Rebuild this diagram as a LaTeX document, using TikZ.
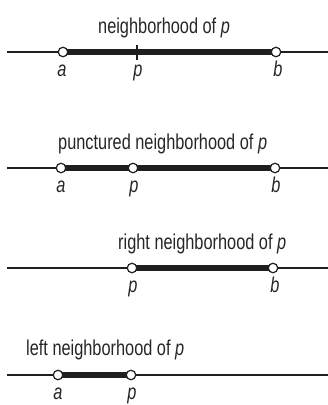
\documentclass[tikz,border=0pt]{standalone}
\usepackage{fontspec}
\setmainfont{Liberation Sans}[FakeStretch=0.76]
\begin{document}
\begin{tikzpicture}[x=1pt,y=-1pt,
  thinline/.style={line width=1.8pt,black!88},
  thickline/.style={line width=5.2pt,black!88},
  opendot/.style={circle,draw=black!88,fill=white,line width=1.2pt,inner sep=0pt,minimum size=9.5pt},
  lbl/.style={anchor=base,inner sep=0pt,font=\fontsize{21.5}{24}\selectfont\itshape,text=black!85},
  ttl/.style={anchor=base west,inner sep=0pt,font=\fontsize{21.5}{24}\selectfont,text=black!85}]
\useasboundingbox (0,0) rectangle (328,405);
% ---- row 1
\coordinate (l1) at (7,52); \coordinate (r1) at (328,52);
\coordinate (a1) at (63,52); \coordinate (p1) at (137,52); \coordinate (b1) at (276,52);
\draw[thinline] (l1) -- (r1);
\draw[thickline] (a1) -- (b1);
\coordinate (p1t) at (137,45); \coordinate (p1b) at (137,60);
\draw[line width=1.1pt,black!88] (p1t) -- (p1b);
\node[opendot] (A1) at (a1) {};
\node[opendot] (B1) at (b1) {};
\node[ttl] (t1) at (98,33) {neighborhood of \textit{p}};
\node[lbl] (la1) at (62,76) {a};
\node[lbl] (lp1) at (138,76) {p};
\node[lbl] (lb1) at (278,76) {b};
% ---- row 2
\coordinate (l2) at (7,168); \coordinate (r2) at (328,168);
\coordinate (a2) at (61,168); \coordinate (p2) at (133,168); \coordinate (b2) at (275,168);
\draw[thinline] (l2) -- (r2);
\draw[thickline] (a2) -- (b2);
\node[opendot] (A2) at (a2) {};
\node[opendot] (P2) at (p2) {};
\node[opendot] (B2) at (b2) {};
\node[ttl] (t2) at (58,149) {punctured neighborhood of \textit{p}};
\node[lbl] (la2) at (61,192) {a};
\node[lbl] (lp2) at (134,192) {p};
\node[lbl] (lb2) at (276,192) {b};
% ---- row 3
\coordinate (l3) at (7,268); \coordinate (r3) at (328,268);
\coordinate (p3) at (132,268); \coordinate (b3) at (273,268);
\draw[thinline] (l3) -- (r3);
\draw[thickline] (p3) -- (b3);
\node[opendot] (P3) at (p3) {};
\node[opendot] (B3) at (b3) {};
\node[ttl] (t3) at (118,249) {right neighborhood of \textit{p}};
\node[lbl] (lp3) at (133,292) {p};
\node[lbl] (lb3) at (275,292) {b};
% ---- row 4
\coordinate (l4) at (7,375); \coordinate (r4) at (328,375);
\coordinate (a4) at (58,375); \coordinate (p4) at (131,375);
\draw[thinline] (l4) -- (r4);
\draw[thickline] (a4) -- (p4);
\node[opendot] (A4) at (a4) {};
\node[opendot] (P4) at (p4) {};
\node[ttl] (t4) at (26,355) {left neighborhood of \textit{p}};
\node[lbl] (la4) at (58,399) {a};
\node[lbl] (lp4) at (132,399) {p};
\end{tikzpicture}
\end{document}
